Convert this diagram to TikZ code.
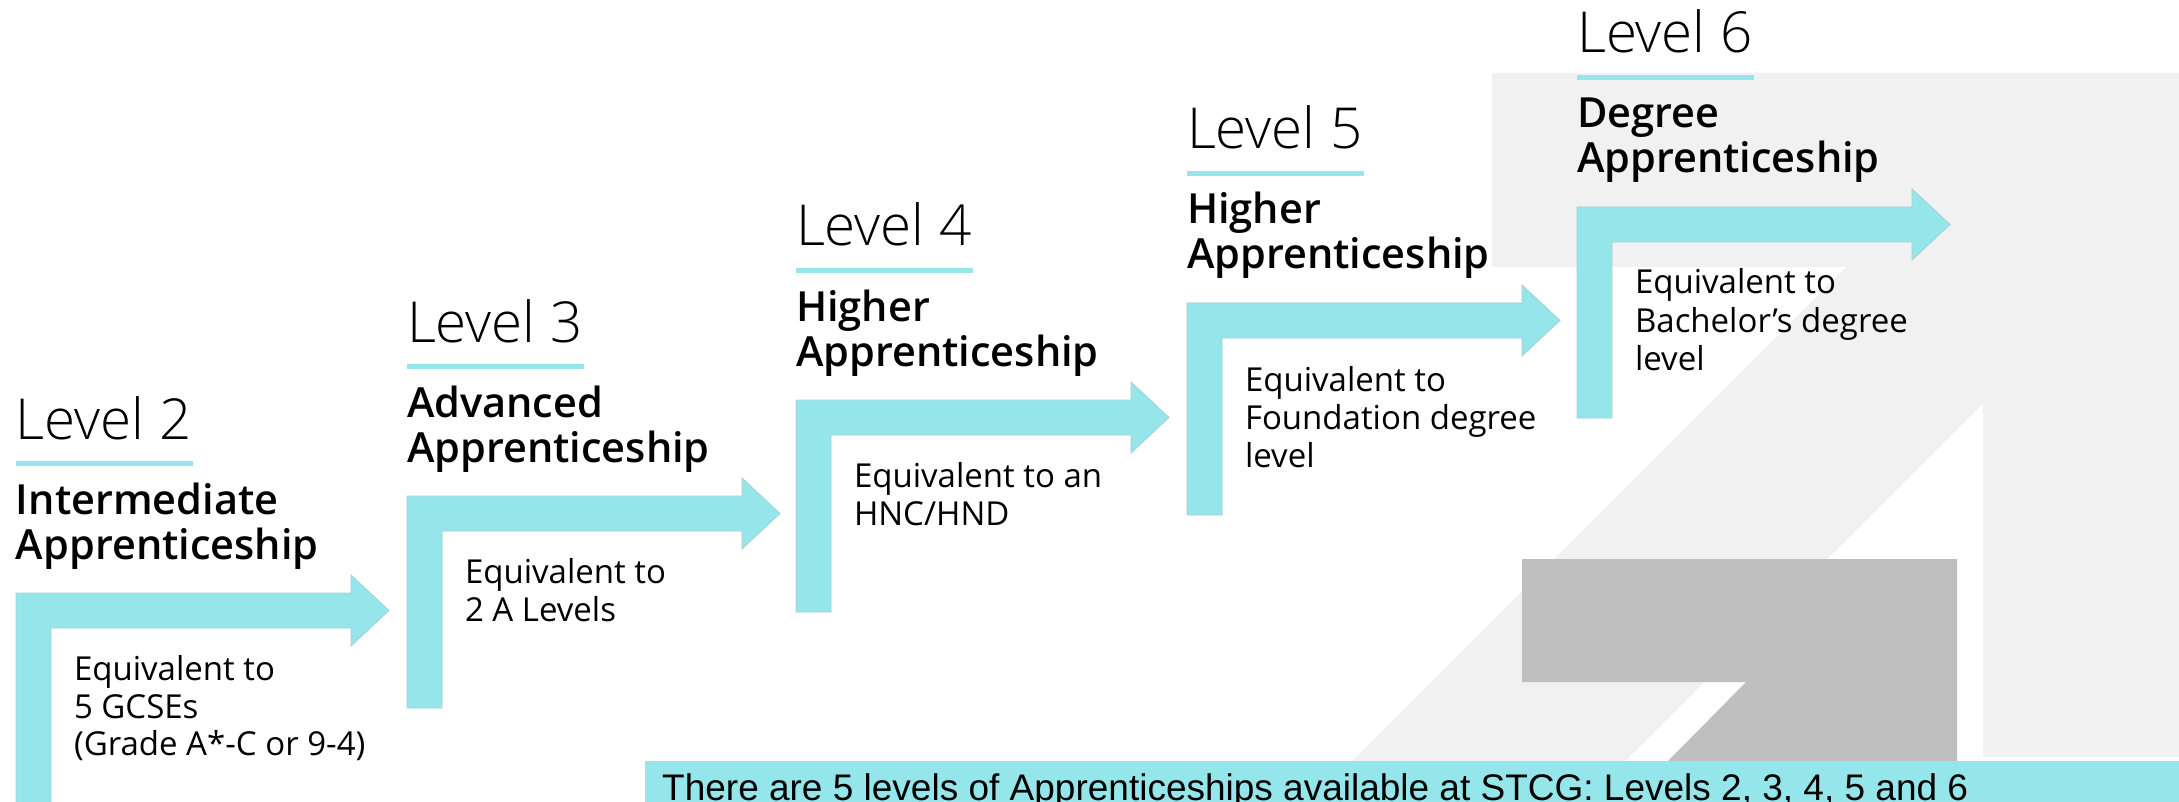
\documentclass[tikz,border=0pt]{standalone}
\usepackage{fontspec}
\setmainfont{Open Sans}
\newfontfamily\osans{Open Sans}
\IfFontExistsTF{Open Sans Light}{\newfontfamily\lvlfont{Open Sans Light}}{%
  \IfFontExistsTF{OpenSans-Light}{\newfontfamily\lvlfont{OpenSans-Light}}{\newfontfamily\lvlfont{Open Sans}}}
\IfFontExistsTF{Open Sans SemiBold}{\newfontfamily\ttlraw{Open Sans SemiBold}\newcommand\ttlsel{\ttlraw}}{%
  \IfFontExistsTF{OpenSans-Semibold}{\newfontfamily\ttlraw{OpenSans-Semibold}\newcommand\ttlsel{\ttlraw}}{\newcommand\ttlsel{\osans\bfseries}}}
\newfontfamily\arial{Liberation Sans}
\definecolor{cyanfill}{RGB}{148,230,234}
\definecolor{cyanedge}{RGB}{170,205,208}
\definecolor{lightbg}{RGB}{241,241,241}
\definecolor{darkbg}{RGB}{191,191,191}
\tikzset{
  lvl/.style={anchor=base west,inner sep=0pt,outer sep=0pt,font=\lvlfont\fontsize{56.5}{56.5}\selectfont},
  ttl/.style={anchor=base west,inner sep=0pt,outer sep=0pt,font=\ttlsel\fontsize{41.5}{41.5}\selectfont},
  dsc/.style={anchor=base west,inner sep=0pt,outer sep=0pt,font=\osans\fontsize{33}{33}\selectfont},
  arrowbody/.style={fill=cyanfill,draw=cyanedge,line width=0.8pt},
  uline/.style={fill=cyanfill},
}
% #1 = left x of vertical bar, #2 = top y of horizontal bar, #3 = bottom y of vertical bar
\newcommand\stepshape[3]{%
  \path[arrowbody] (#1,#3) -- (#1,#2) -- ({#1+335},#2) -- ({#1+335},{#2-18}) -- ({#1+373},{#2+17.5})
    -- ({#1+335},{#2+53}) -- ({#1+335},{#2+35}) -- ({#1+35},{#2+35}) -- ({#1+35},#3) -- cycle;
  \fill[uline] (#1,{#2-132}) rectangle ({#1+177},{#2-127});
}
\begin{document}
\begin{tikzpicture}[x=1pt,y=-1pt]
\useasboundingbox (0,0) rectangle (2179,802);
\fill[white] (0,0) rectangle (2179,802);
% background logo shapes
\fill[lightbg] (1492,73) -- (2179,73) -- (2179,757) -- (1983,757) -- (1983,403) -- (1625,761)
  -- (1352,761) -- (1846,267) -- (1492,267) -- cycle;
\fill[darkbg] (1522,559) -- (1957,559) -- (1957,761) -- (1668,761) -- (1746,682) -- (1522,682) -- cycle;
% step arrows
\stepshape{16}{593}{812}
\stepshape{407}{496}{708}
\stepshape{796}{400}{612}
\stepshape{1187}{303}{515}
\stepshape{1577}{207}{418}
% Level 2
\node[lvl] (l2) at (16,439) {Level 2};
\node[ttl] (l2a) at (16,514) {Intermediate};
\node[ttl] (l2b) at (16,559) {Apprenticeship};
\node[dsc] (l2c) at (74,680) {Equivalent to};
\node[dsc] (l2d) at (74,718) {5 GCSEs};
\node[dsc] (l2e) at (74,755) {(Grade A*-C or 9-4)};
% Level 3
\node[lvl] (l3) at (407,342) {Level 3};
\node[ttl] (l3a) at (407,417) {Advanced};
\node[ttl] (l3b) at (407,462) {Apprenticeship};
\node[dsc] (l3c) at (465,583) {Equivalent to};
\node[dsc] (l3d) at (465,621) {2 A Levels};
% Level 4
\node[lvl] (l4) at (796,246) {Level 4};
\node[ttl] (l4a) at (796,321) {Higher};
\node[ttl] (l4b) at (796,366) {Apprenticeship};
\node[dsc] (l4c) at (854,487) {Equivalent to an};
\node[dsc] (l4d) at (854,525) {HNC/HND};
% Level 5
\node[lvl] (l5) at (1187,149) {Level 5};
\node[ttl] (l5a) at (1187,224) {Higher};
\node[ttl] (l5b) at (1187,269) {Apprenticeship};
\node[dsc] (l5c) at (1245,391) {Equivalent to};
\node[dsc] (l5d) at (1245,429) {Foundation degree};
\node[dsc] (l5e) at (1245,467) {level};
% Level 6
\node[lvl] (l6) at (1577,53) {Level 6};
\node[ttl] (l6a) at (1577,128) {Degree};
\node[ttl] (l6b) at (1577,173) {Apprenticeship};
\node[dsc] (l6c) at (1635,294) {Equivalent to};
\node[dsc] (l6d) at (1635,332) {Bachelor’s degree};
\node[dsc] (l6e) at (1635,370) {level};
% bottom banner
\fill[cyanfill] (645,761) rectangle (2179,812);
\node[anchor=base west,inner sep=0pt,font=\arial\fontsize{37}{37}\selectfont] (banner) at (662,800)
  {There are 5 levels of Apprenticeships available at STCG: Levels 2, 3, 4, 5 and 6};
\end{tikzpicture}
\end{document}
